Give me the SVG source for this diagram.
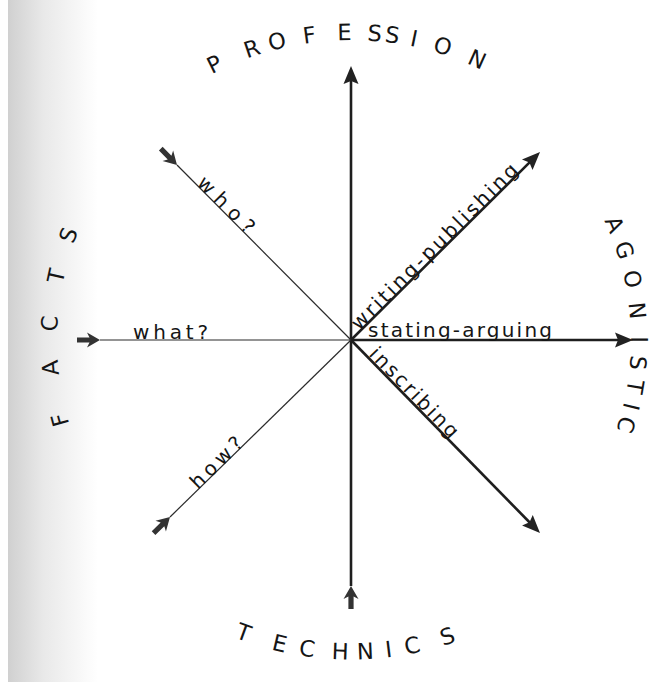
<svg xmlns="http://www.w3.org/2000/svg" width="651" height="682" viewBox="0 0 651 682">
<defs>
<linearGradient id="shade" x1="0" y1="0" x2="1" y2="0">
<stop offset="0" stop-color="#d0d0d0"/><stop offset="0.4" stop-color="#e9e9e9"/><stop offset="1" stop-color="#ffffff"/>
</linearGradient>
<marker id="out" markerUnits="userSpaceOnUse" markerWidth="40" markerHeight="40" refX="0" refY="0" orient="auto" overflow="visible">
<path d="M14,0 L-4,-7.5 L-1,0 L-4,7.5 Z" fill="#222"/>
</marker>
<marker id="in" markerUnits="userSpaceOnUse" markerWidth="40" markerHeight="40" refX="0" refY="0" orient="auto" overflow="visible">
<path d="M0,0 L-13,-7.5 L-10.5,-2.6 L-23,-2.6 L-23,2.6 L-10.5,2.6 L-13,7.5 Z" fill="#333"/>
</marker>
</defs>
<style>
.t{font-family:"DejaVu Sans","Liberation Sans",Arial,sans-serif;fill:#151515}
.title{font-size:22.5px}
.lbl{font-size:20px}
.thin{stroke:#2a2a2a;stroke-width:1.2;fill:none}
.thick{stroke:#1e1e1e;stroke-width:2.6;fill:none}
</style>
<rect width="651" height="682" fill="#ffffff"/>
<rect x="8" y="0" width="90" height="682" fill="url(#shade)"/>
<g id="connectors">
<path class="thick" d="M351,340 V80" marker-end="url(#out)"/>
<path class="thick" d="M351,586 V340" marker-start="url(#in)"/>
<path class="thick" d="M351,340 H619" marker-end="url(#out)"/>
<path class="thick" d="M351,340 L530.1,161.9" marker-end="url(#out)"/>
<path class="thick" d="M351,340 L530.2,523" marker-end="url(#out)"/>
<path class="thin" d="M100,340 H351" marker-start="url(#in)"/>
<path class="thin" d="M177,165 L351,340" marker-start="url(#in)"/>
<path class="thin" d="M170,517 L351,340" marker-start="url(#in)"/>
</g>
<g id="profession"><text class="t title" x="211.7 247.0 270.3 303.9 337.6 367.0 384.2 409.2 432.1 466.3" y="74.2 58.5 50.9 43.7 40.2 40.4 41.7 45.6 51.1 63.0" rotate="-26.2 -18.7 -13.9 -7.7 -1.1 4.5 7.8 11.8 17.4 24.2">PROFESSION</text></g>
<g id="technics"><text class="t title" x="234.6 271.1 298.3 331.6 357.2 386.2 406.0 443.0" y="637.6 649.4 655.2 659.0 659.5 657.6 654.8 646.1" rotate="20.1 13.1 8.0 2.0 -2.6 -6.9 -11.4 -18.1">TECHNICS</text></g>
<g id="facts"><text class="t title" x="69.2 58.9 57.1 62.5 73.3" y="423.9 374.8 331.8 284.3 244.6" rotate="-105.2 -95.3 -86.8 -77.7 -69.6">FACTS</text></g>
<g id="agonistic"><text class="t title" x="604.3 614.3 623.0 628.6 631.0 630.7 628.4 624.3 620.9" y="220.4 244.2 272.1 302.9 336.2 354.9 378.8 401.4 414.8" rotate="66.4 71.9 77.9 84.2 90 94.7 99.5 103.5 107.3">AGONISTIC</text></g>
<g id="what"><text class="t lbl" x="133" y="339" textLength="75" lengthAdjust="spacing">what?</text></g>
<g id="stating-arguing"><text class="t lbl" x="368" y="337" textLength="184" lengthAdjust="spacing">stating-arguing</text></g>
<g id="writing-publishing"><text class="t lbl" transform="translate(359,331) rotate(-44.85)" textLength="226" lengthAdjust="spacing">writing-publishing</text></g>
<g id="inscribing"><text class="t lbl" transform="translate(368,355) rotate(45.6)" textLength="118" lengthAdjust="spacing">inscribing</text></g>
<g id="who"><text class="t lbl" transform="translate(196,184) rotate(45.2)" textLength="72" lengthAdjust="spacing">who?</text></g>
<g id="how"><text class="t lbl" transform="translate(198,490) rotate(-44.4)" textLength="65" lengthAdjust="spacing">how?</text></g>
</svg>
